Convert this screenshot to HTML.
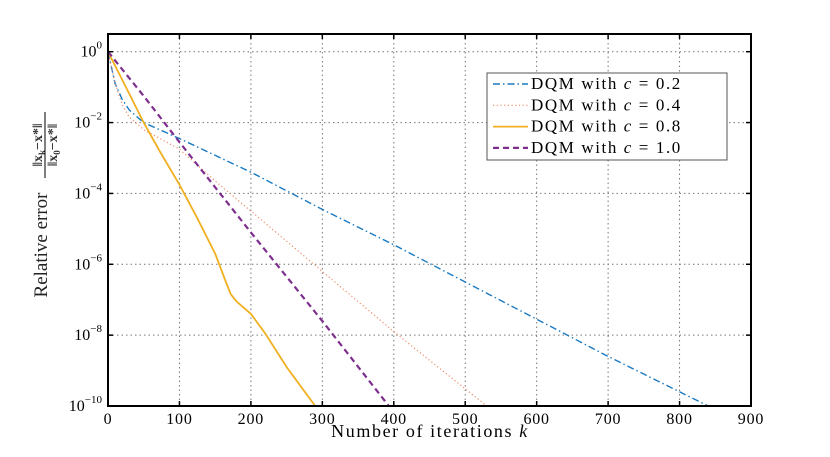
<!DOCTYPE html>
<html><head><meta charset="utf-8"><style>
html,body{margin:0;padding:0;background:#fff;}
svg{display:block;font-family:"Liberation Serif",serif;}
</style></head><body>
<svg id="chart" width="830" height="457" viewBox="0 0 830 457" xmlns="http://www.w3.org/2000/svg">
<g id="grid"></g>
<g id="series"></g>
<rect x="108" y="34" width="643" height="372" fill="none" stroke="#000" stroke-width="2"/>
<g id="ticks"></g>
<text x="430" y="437" font-size="18" text-anchor="middle" letter-spacing="1.6">Number of iterations <tspan font-style="italic">k</tspan></text>
<g>
<text transform="translate(47,245) rotate(-90)" font-size="19" text-anchor="middle" fill="#222">Relative error</text>
<g transform="translate(45,145) rotate(-90)" font-size="14" text-anchor="middle" font-weight="bold" fill="#333">
<text x="0" y="-3">‖x<tspan font-size="9" dy="3">k</tspan><tspan dy="-3">−x*</tspan>‖</text>
<line x1="-33" y1="0" x2="33" y2="0" stroke="#000" stroke-width="1"/>
<text x="0" y="12">‖x<tspan font-size="9" dy="3">0</tspan><tspan dy="-3">−x*</tspan>‖</text>
</g></g>
<g id="legend">
<rect x="487" y="73" width="240" height="87" fill="#fff" stroke="#555" stroke-width="1"/>
</g>
</svg>
<script>
const xTicks=[0,100,200,300,400,500,600,700,800,900];
const yTickExps=[0,-2,-4,-6,-8,-10];
const seriesNames=["DQM with c = 0.2","DQM with c = 0.4","DQM with c = 0.8","DQM with c = 1.0"];
const k02=[0,10,20,30,50,100,200,300,400,500,600,700,800,840];
const v02=[0,-0.9,-1.35,-1.65,-2.0,-2.45,-3.4,-4.45,-5.45,-6.5,-7.55,-8.6,-9.6,-10];
const k04=[0,10,20,30,50,100,150,200,300,400,530];
const v04=[0,-0.9,-1.5,-1.85,-2.2,-2.75,-3.65,-4.5,-6.2,-7.9,-10];
const k08=[0,25,50,75,100,125,150,165,172,180,200,220,250,290];
const v08=[0,-1,-2,-2.9,-3.75,-4.7,-5.7,-6.5,-6.85,-7.05,-7.4,-7.95,-8.9,-10];
const k10=[0,50,100,200,300,393];
const v10=[0,-1.25,-2.55,-5.1,-7.6,-10];
const NS="http://www.w3.org/2000/svg";
const X0=108,X1=751,Y0=406,Y1=34;
const xs=k=>X0+(k/900)*(X1-X0);
const ys=e=>Y0-((e+10)/10.5)*(Y0-Y1);
function mk(tag,attrs,parent){const el=document.createElementNS(NS,tag);for(const a in attrs)el.setAttribute(a,attrs[a]);parent.appendChild(el);return el;}
const grid=document.getElementById('grid'),ticks=document.getElementById('ticks'),ser=document.getElementById('series'),leg=document.getElementById('legend');
xTicks.forEach(t=>{
  const x=xs(t);
  if(t>0&&t<900){const g=mk('line',{x1:x,y1:Y1,x2:x,y2:Y0,stroke:'#777','stroke-width':1,'stroke-dasharray':'1.5,3'},grid);
  
  }
  mk('line',{x1:x,y1:Y0,x2:x,y2:Y0-5,stroke:'#000','stroke-width':1.5},ticks);
  mk('line',{x1:x,y1:Y1,x2:x,y2:Y1+5,stroke:'#000','stroke-width':1.5},ticks);
  const tx=mk('text',{x:x,y:Y0+18,'font-size':16,'text-anchor':'middle','letter-spacing':'0.8'},ticks);
  tx.textContent=t;
  
  
});
yTickExps.forEach(e=>{
  const y=ys(e);
  if(e>-10){const g=mk('line',{x1:X0,y1:y,x2:X1,y2:y,stroke:'#777','stroke-width':1,'stroke-dasharray':'1.5,3'},grid);
  
  }
  mk('line',{x1:X0,y1:y,x2:X0+5,y2:y,stroke:'#000','stroke-width':1.5},ticks);
  mk('line',{x1:X1,y1:y,x2:X1-5,y2:y,stroke:'#000','stroke-width':1.5},ticks);
  const tx=mk('text',{x:X0-6,y:y+5,'font-size':16,'text-anchor':'end'},ticks);
  tx.innerHTML='10<tspan dy="-8" font-size="11">'+(e===0?'0':'−'+(-e))+'</tspan>';
  
  
});
const styles=[
 {c:'#1a7ac2',d:'7,3,1.5,3',w:1.4},
 {c:'#f08a6a',d:'1.2,2.5',w:1.2},
 {c:'#f0b020',d:'',w:1.8},
 {c:'#7e2f8e',d:'6,4',w:2.2}];
const ks=[k02,k04,k08,k10],vs=[v02,v04,v08,v10];
ks.forEach((kk,i)=>{
  const d=kk.map((k,j)=>(j?'L':'M')+xs(k).toFixed(1)+','+ys(vs[i][j]).toFixed(1)).join('');
  const p=mk('path',{d:d,fill:'none',stroke:styles[i].c,'stroke-width':styles[i].w,'stroke-dasharray':styles[i].d},ser);
  
  
  const ly=84+i*21.3;
  mk('line',{x1:493,y1:ly,x2:528,y2:ly,stroke:styles[i].c,'stroke-width':styles[i].w,'stroke-dasharray':styles[i].d},leg);
  const t=mk('text',{x:531,y:ly+5,'font-size':17,'letter-spacing':'1.6'},leg);
  const parts=seriesNames[i].split('c');
  t.innerHTML=parts[0]+'<tspan font-style="italic">c</tspan>'+parts[1];
  
  
});
</script>
</body></html>
